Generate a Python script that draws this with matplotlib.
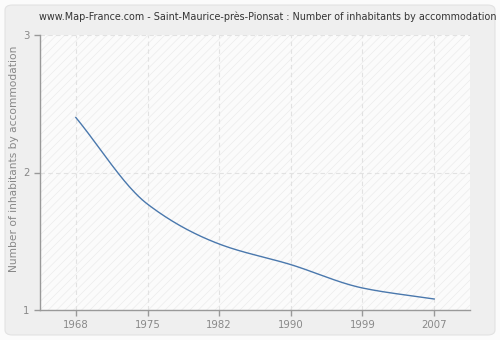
import numpy as np
import matplotlib
matplotlib.use("Agg")
import matplotlib.pyplot as plt
from matplotlib.patches import FancyBboxPatch, Rectangle

years = ["1968", "1975", "1982", "1990", "1999", "2007"]
values = [2.40, 1.77, 1.48, 1.33, 1.16, 1.08]
y_ticks = [1, 2, 3]

title = "www.Map-France.com - Saint-Maurice-près-Pionsat : Number of inhabitants by accommodation"
ylabel = "Number of inhabitants by accommodation"


def monotone_cubic(x, y, n=40):
    """Fritsch-Carlson monotone cubic through the given points."""
    x = np.asarray(x, float)
    y = np.asarray(y, float)
    h = np.diff(x)
    d = np.diff(y) / h
    m = np.zeros_like(y)
    m[0], m[-1] = d[0], d[-1]
    for i in range(1, len(y) - 1):
        if d[i - 1] * d[i] <= 0:
            m[i] = 0
        else:
            w1 = 2 * h[i] + h[i - 1]
            w2 = h[i] + 2 * h[i - 1]
            m[i] = (w1 + w2) / (w1 / d[i - 1] + w2 / d[i])
    xs, ys = [], []
    for i in range(len(h)):
        t = np.linspace(0, 1, n, endpoint=(i == len(h) - 1))
        h00 = 2 * t**3 - 3 * t**2 + 1
        h10 = t**3 - 2 * t**2 + t
        h01 = -2 * t**3 + 3 * t**2
        h11 = t**3 - t**2
        xs.append(x[i] + t * h[i])
        ys.append(h00 * y[i] + h10 * h[i] * m[i] + h01 * y[i + 1] + h11 * h[i] * m[i + 1])
    return np.concatenate(xs), np.concatenate(ys)


plt.rcParams["hatch.linewidth"] = 0.5

fig = plt.figure(figsize=(5, 3.4), dpi=100)
fig.patch.set_facecolor("#fbfbfb")
fig.patches.append(FancyBboxPatch((5 / 500, 5 / 340), 490 / 500, 330 / 340,
                                  boxstyle="round,pad=0,rounding_size=0.015",
                                  transform=fig.transFigure, facecolor="#efefef",
                                  edgecolor="#e2e2e2", linewidth=0.8, zorder=-10))

ax = fig.add_axes([40 / 500, 30 / 340, 430 / 500, 275 / 340])
ax.set_facecolor("#fbfbfb")
hatch = Rectangle((0, 0), 1, 1, transform=ax.transAxes, facecolor="none",
                  edgecolor="#ececec", hatch="////", linewidth=0, zorder=0)
ax.add_patch(hatch)

pos = np.arange(len(years))
xs, ys = monotone_cubic(pos, values)
ax.plot(xs, ys, color="#4a78ad", linewidth=1.0, zorder=3)

ax.set_xlim(-0.5, len(years) - 0.5)
ax.set_ylim(1, 3)
ax.set_xticks(pos)
ax.set_xticklabels(years)
ax.set_yticks(y_ticks)
ax.set_yticklabels([str(v) for v in y_ticks])

ax.grid(True, color="#e2e2e2", linestyle=(0, (4, 3)), linewidth=0.8, zorder=1)
for side in ("top", "right"):
    ax.spines[side].set_visible(False)
for side in ("left", "bottom"):
    ax.spines[side].set_color("#999999")
    ax.spines[side].set_linewidth(1.0)
ax.tick_params(axis="both", colors="#999999", labelcolor="#888888",
               labelsize=7.3, length=4, width=1.0)

ax.set_ylabel(ylabel, fontsize=7.7, color="#888888")
ax.yaxis.set_label_coords(-21 / 430, 0.55)
fig.text(268 / 500, 1 - 17 / 340, title, ha="center", va="center",
         fontsize=6.9, color="#333333")

fig.savefig("out.png", dpi=100, facecolor=fig.get_facecolor())
